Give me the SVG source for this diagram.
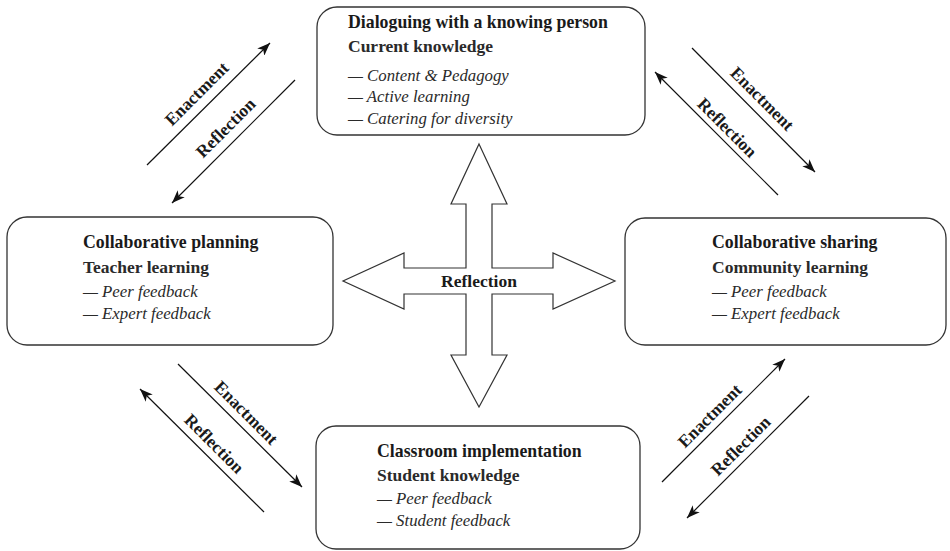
<svg xmlns="http://www.w3.org/2000/svg" width="950" height="551" viewBox="0 0 950 551">
<style>
.box{fill:#fff;stroke:#333;stroke-width:1.3}
.t{font-family:"Liberation Serif","DejaVu Serif",serif;fill:#1a1a1a}
.h{font-size:17.8px;font-weight:bold}
.s{font-size:17.5px;font-weight:bold;fill:#2a2a2a}
.i{font-size:16.8px;font-style:italic;fill:#2a2a2a}
.lab{font-family:"Liberation Serif","DejaVu Serif",serif;font-size:17.5px;font-weight:bold;fill:#1a1a1a;text-anchor:middle}
.ln{stroke:#111;stroke-width:1.2;fill:none;marker-end:url(#ah)}
.cross{fill:#fff;stroke:#333;stroke-width:1.2}
</style>
<defs>
<marker id="ah" markerUnits="userSpaceOnUse" markerWidth="14" markerHeight="10" refX="13" refY="5" orient="auto">
<path d="M0,0 L13,5 L0,10 L3.5,5 z" fill="#111"/>
</marker>
</defs>
<rect width="950" height="551" fill="#fff"/>

<g id="top-node">
<rect class="box" x="317" y="7" width="328" height="128" rx="20"/>
<text class="t h" x="348" y="28">Dialoguing with a knowing person</text>
<text class="t s" x="348" y="52">Current knowledge</text>
<text class="t i" x="348" y="81">— Content &amp; Pedagogy</text>
<text class="t i" x="348" y="102">— Active learning</text>
<text class="t i" x="348" y="124">— Catering for diversity</text>
</g>

<g id="left-node">
<rect class="box" x="7" y="217" width="326" height="128" rx="20"/>
<text class="t h" x="83" y="248">Collaborative planning</text>
<text class="t s" x="83" y="273">Teacher learning</text>
<text class="t i" x="83" y="297">— Peer feedback</text>
<text class="t i" x="83" y="319">— Expert feedback</text>
</g>

<g id="right-node">
<rect class="box" x="625" y="218" width="321" height="127" rx="20"/>
<text class="t h" x="712" y="248">Collaborative sharing</text>
<text class="t s" x="712" y="273">Community learning</text>
<text class="t i" x="712" y="297">— Peer feedback</text>
<text class="t i" x="712" y="319">— Expert feedback</text>
</g>

<g id="bottom-node">
<rect class="box" x="316" y="426" width="324" height="123" rx="20"/>
<text class="t h" x="377" y="457">Classroom implementation</text>
<text class="t s" x="377" y="481">Student knowledge</text>
<text class="t i" x="377" y="504">— Peer feedback</text>
<text class="t i" x="377" y="526">— Student feedback</text>
</g>

<g id="center-reflection">
<polygon class="cross" points="479,144 507,204 492,204 492,268 553,268 553,253 615,281 553,309 553,294 492,294 492,355 507,355 479,407 451,355 466,355 466,294 404,294 404,309 343,281 404,253 404,268 466,268 466,204 451,204"/>
<text class="lab" x="479" y="287">Reflection</text>
</g>

<g id="connectors">
<line class="ln" x1="147" y1="165" x2="270" y2="43"/>
<line class="ln" x1="295" y1="80" x2="172" y2="203"/>
<line class="ln" x1="692" y1="48" x2="815" y2="172"/>
<line class="ln" x1="778" y1="195" x2="655" y2="72"/>
<line class="ln" x1="178" y1="364" x2="302" y2="487"/>
<line class="ln" x1="264" y1="512" x2="140" y2="389"/>
<line class="ln" x1="662" y1="482" x2="785" y2="359"/>
<line class="ln" x1="809" y1="396" x2="687" y2="518"/>
<text class="lab" transform="translate(197,94) rotate(-45)" y="5.5">Enactment</text>
<text class="lab" transform="translate(226,128) rotate(-45)" y="5.5">Reflection</text>
<text class="lab" transform="translate(762,99) rotate(45)" y="5.5">Enactment</text>
<text class="lab" transform="translate(727,128) rotate(45)" y="5.5">Reflection</text>
<text class="lab" transform="translate(246,413) rotate(45)" y="5.5">Enactment</text>
<text class="lab" transform="translate(214,444) rotate(45)" y="5.5">Reflection</text>
<text class="lab" transform="translate(710,416) rotate(-45)" y="5.5">Enactment</text>
<text class="lab" transform="translate(741,446) rotate(-45)" y="5.5">Reflection</text>
</g>
</svg>
